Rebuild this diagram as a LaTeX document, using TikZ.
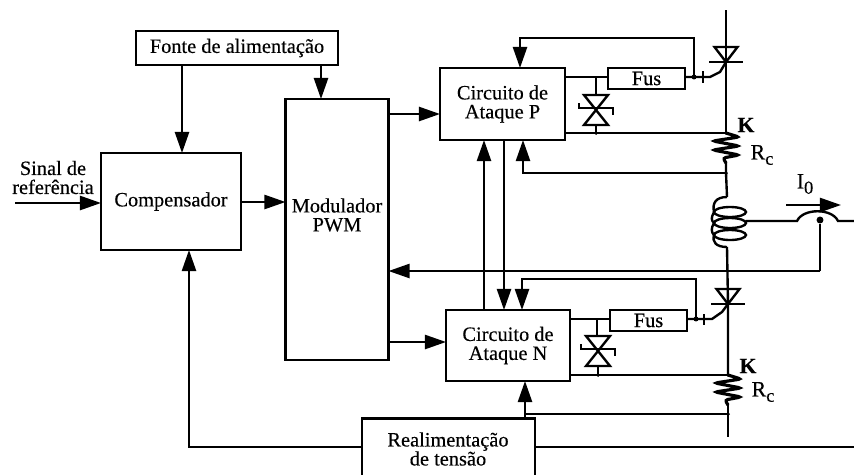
\documentclass[tikz,border=0pt]{standalone}
\usepackage{fontspec}
\setmainfont{Liberation Serif}[FakeBold=0.35]
\usetikzlibrary{arrows.meta}
\tikzset{
    wire/.style={draw, line width=1.35pt},
    arrow/.style={wire, -{Triangle[length=12pt, width=8pt]}},
    block/.style={draw, line width=1.5pt, align=center, inner sep=0pt, outer sep=0pt, font=\fontsize{11.6}{10.8}\selectfont},
    caption/.style={align=center, inner sep=0pt, font=\fontsize{11.6}{10.8}\selectfont},
    symbol/.style={inner sep=0pt, font=\fontsize{12.5}{14}\selectfont},
    dot/.style={circle, fill, inner sep=1.4pt},
    scr/.pic={
        \draw[wire] (-11.5,-15) -- (11.5,-15) -- (0,0) -- cycle;
        \draw[wire] (-17,0) -- (17,0);
    },
    zener/.pic={
        \draw[wire] (-12,-15) -- (12,-15) -- (-12,15) -- (12,15) -- cycle;
        \draw[wire] (-17,-7) -- (-17,-2) -- (17,-2) -- (17,5);
    },
    shunt/.pic={
        \draw[wire, line width=1.8pt, rounded corners=1.5pt] (0,0) -- (13,4) -- (-13,8) -- (13,13) -- (-13,17) -- (13,22) -- (-3,25) -- (0,30);
    }
}
\newcommand{\lowtext}[1]{\raisebox{-3pt}{\fontsize{10.5}{11}\selectfont #1}}
\begin{document}
\begin{tikzpicture}[x=0.02cm, y=-0.02cm]
    \useasboundingbox (0,0) rectangle (854,474);

    % Blocks
    \node[block, minimum width=4.04cm, minimum height=0.68cm] (fonte) at (237,48) {Fonte de alimentação};
    \node[block, minimum width=2.8cm, minimum height=1.94cm] (comp) at (171,201.5) {Compensador};
    \node[block, minimum width=2.06cm, minimum height=5.22cm] (pwm) at (337,229.5) {};
    \node[caption] (pwmtext) at (337,215) {Modulador\\PWM};
    \node[block, minimum width=2.5cm, minimum height=1.44cm] (ataqueP) at (502.5,104) {Circuito de\\Ataque P};
    \node[block, minimum width=2.48cm, minimum height=1.42cm] (ataqueN) at (508,345.5) {Circuito de\\Ataque N};
    \node[block, minimum width=1.54cm, minimum height=0.42cm] (fusP) at (646.5,78.5) {Fus};
    \node[block, minimum width=1.54cm, minimum height=0.42cm] (fusN) at (648.5,320.5) {Fus};
    \node[block, minimum width=3.46cm, minimum height=1.3cm] (realim) at (448.5,451) {};
    \node[caption] (realimtext) at (448,449) {Realimentação\\de tensão};
    \node[caption] (sinaltext) at (53,177.5) {Sinal de\\referência};

    % Labels
    \node[symbol] (kP) at (746,125) {\textbf{K}};
    \node[symbol] (rP) at (762,155) {R\lowtext{c}};
    \node[symbol] (kN) at (748,366) {\textbf{K}};
    \node[symbol] (rN) at (763,392) {R\lowtext{c}};
    \node[symbol] (io) at (805,184) {I\lowtext{0}};

    % Power line, top half
    \coordinate (topP) at (726,10);
    \coordinate (apexP) at (726,62);
    \coordinate (kneeP) at (726,133);
    \coordinate (baseP) at (726,173);
    \coordinate (coilA) at (727,197);
    \coordinate (coilB) at (727,247);
    \coordinate (apexN) at (728,304);
    \coordinate (kneeN) at (728,375);
    \coordinate (baseN) at (728,414);
    \coordinate (endN) at (728,437);
    \draw[wire] (topP) -- (apexP) -- (kneeP);
    \draw[wire] (726,162) -- (baseP) -- (coilA);
    \draw[wire] (coilB) -- (apexN) -- (kneeN);
    \draw[wire] (728,404) -- (baseN) -- (endN);
    \pic at (apexP) {scr};
    \pic at (apexN) {scr};
    \pic at (kneeP) {shunt};
    \pic at (kneeN) {shunt};

    % Coil
    \foreach \y in {212, 223, 235} {
        \draw[wire] (730,\y) ellipse (16 and 5);
    }
    \draw[wire] (coilA) .. controls (716,197) and (712,203) .. (714,212);
    \draw[wire] (714,212) .. controls (711,218) and (711,220) .. (714,223);
    \draw[wire] (714,223) .. controls (711,228) and (711,232) .. (714,235);
    \draw[wire] (714,235) .. controls (712,242) and (716,247) .. (coilB);

    % Current sensor
    \coordinate (coilout) at (746,221);
    \coordinate (sensL) at (797,221);
    \coordinate (sensR) at (838,221);
    \coordinate (sensE) at (854,221);
    \coordinate (tapP) at (820,220);
    \coordinate (tapQ) at (820,271);
    \coordinate (ioL) at (786,205);
    \coordinate (ioR) at (841,205);
    \draw[wire] (coilout) -- (sensL) .. controls (803,208) and (832,208) .. (sensR) -- (sensE);
    \draw[arrow] (ioL) -- (ioR);
    \node[dot] (tapdot) at (tapP) {};
    \draw[wire] (tapdot) -- (tapQ);
    \draw[arrow] (tapQ) -- (tapQ -| pwm.east);

    % Block connections
    \coordinate (sinal) at (15,203);
    \draw[arrow] (sinal) -- (sinal -| comp.west);
    \coordinate (compout) at (241,202);
    \draw[arrow] (compout) -- (compout -| pwm.west);
    \draw[arrow] (fonte.south -| 182,0) -- (comp.north -| 182,0);
    \draw[arrow] (fonte.south -| 321,0) -- (pwm.north -| 321,0);
    \coordinate (pwmP) at (388,114);
    \coordinate (pwmN) at (388,342);
    \draw[arrow] (pwmP) -- (pwmP -| ataqueP.west);
    \draw[arrow] (pwmN) -- (pwmN -| ataqueN.west);
    \draw[arrow] (ataqueN.north -| 484,0) -- (ataqueP.south -| 484,0);
    \draw[arrow] (ataqueP.south -| 504,0) -- (ataqueN.north -| 504,0);
    \coordinate (realimL) at (362,447);
    \coordinate (realimR) at (535,447);
    \draw[arrow] (realimL) -- (189,447) -- (comp.south -| 189,0);
    \draw[wire] (realimR) -- (854,447);

    % Drive P
    \coordinate (gateP) at (694,77);
    \draw[wire] (fusP.east |- gateP) -- (710,77) -- (720,72) -- (apexP);
    \draw[wire] (703,71) -- (703,83);
    \draw[arrow] (gateP) -- (694,38) -- (520,38) -- (ataqueP.north -| 520,0);
    \node[dot, inner sep=1pt] (gatedotP) at (gateP) {};
    \coordinate (driveP) at (565,77);
    \draw[wire] (driveP) -- (driveP -| fusP.west);
    \draw[wire] (596,77) -- (596,95);
    \pic at (596,110) {zener};
    \draw[wire] (596,125) -- (596,133);
    \draw[wire] (565,133) -- (kneeP);
    \draw[arrow] (baseP) -- (523,173) -- (ataqueP.south -| 523,0);
    \node[dot, inner sep=0.8pt] (dotP1) at (596,133) {};
    \node[dot, inner sep=0.8pt] (dotP2) at (kneeP) {};
    \node[dot, inner sep=0.8pt] (dotP3) at (baseP) {};

    % Drive N
    \coordinate (gateN) at (696,319);
    \draw[wire] (fusN.east |- gateN) -- (712,319) -- (722,312) -- (apexN);
    \draw[wire] (704,314) -- (704,325);
    \draw[arrow] (gateN) -- (696,279) -- (522,279) -- (ataqueN.north -| 522,0);
    \node[dot, inner sep=1pt] (gatedotN) at (gateN) {};
    \coordinate (driveN) at (570,319);
    \draw[wire] (driveN) -- (driveN -| fusN.west);
    \draw[wire] (597,319) -- (597,335);
    \pic at (598,351) {zener};
    \draw[wire] (598,367) -- (598,375);
    \draw[wire] (570,375) -- (kneeN);
    \draw[arrow] (525,419) -- (ataqueN.south -| 525,0);
    \draw[wire] (baseN) -- (525,414);
    \node[dot, inner sep=0.8pt] (dotN1) at (598,375) {};
    \node[dot, inner sep=0.8pt] (dotN2) at (kneeN) {};
    \node[dot, inner sep=0.8pt] (dotN3) at (baseN) {};
\end{tikzpicture}
\end{document}
